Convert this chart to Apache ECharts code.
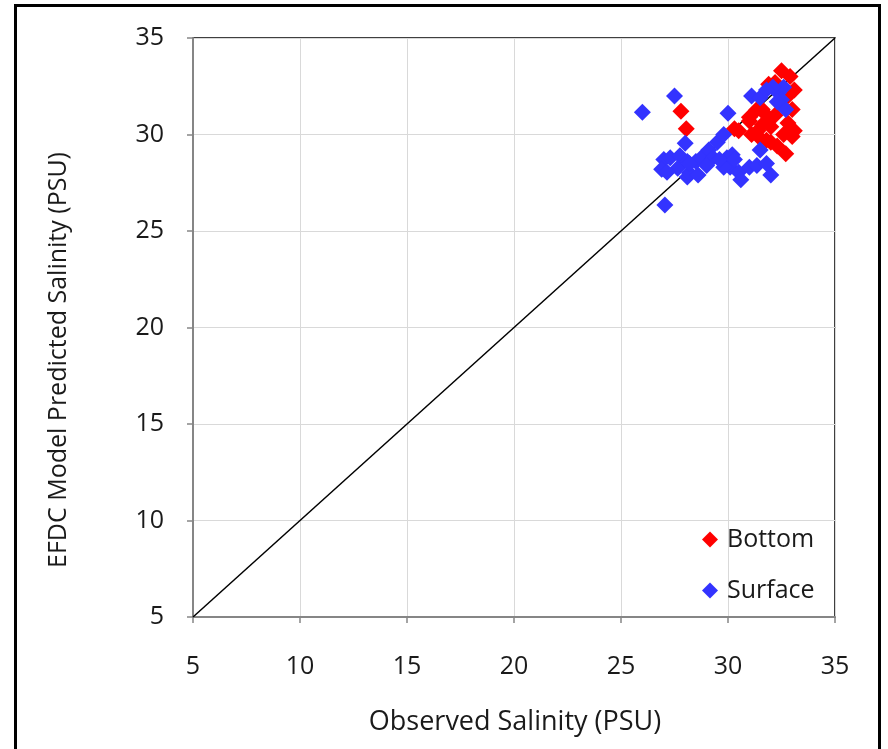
<!DOCTYPE html>
<html>
<head>
<meta charset="utf-8">
<script src="https://cdn.jsdelivr.net/npm/echarts@6/dist/echarts.min.js"></script>
<style>
  html, body { margin: 0; padding: 0; background: #fff; }
  #container { width: 888px; height: 749px; }
</style>
</head>
<body>
<div id="container"></div>
<script>
// observed vs predicted salinity
var bottomPts = [
    [27.8, 31.2], [28.05, 30.3], [30.3, 30.3], [30.5, 30.2], [31.0, 30.9],
    [31.35, 31.3], [31.1, 30.0], [31.6, 30.5], [31.8, 29.7], [31.0, 30.7],
    [31.4, 30.2], [31.6, 31.3], [32.0, 30.4], [32.8, 30.6], [32.5, 33.3],
    [32.9, 33.0], [32.2, 32.7], [33.1, 32.3], [31.9, 32.6], [33.0, 31.3],
    [33.1, 30.2], [33.0, 29.9], [32.7, 29.0], [32.3, 29.4], [32.0, 29.6],
    [32.6, 30.0], [32.4, 31.6], [31.8, 31.0], [32.8, 32.0], [31.5, 29.8],
    [32.2, 31.0]
];
var surfacePts = [
    [26.0, 31.15], [27.5, 32.0], [27.05, 26.35], [28.0, 29.55], [27.0, 28.7],
    [26.9, 28.2], [27.3, 28.8], [27.75, 28.9], [27.65, 28.25], [28.1, 28.6],
    [28.1, 27.8], [27.15, 28.05], [28.2, 28.0], [28.6, 27.9], [28.5, 28.6],
    [28.8, 28.85], [29.1, 29.2], [29.3, 28.8], [29.5, 29.6], [29.8, 30.0],
    [30.0, 31.1], [29.95, 28.8], [30.2, 28.95], [30.1, 28.3], [30.5, 28.05],
    [30.6, 27.65], [31.0, 28.3], [31.35, 28.4], [29.8, 28.3], [31.5, 29.2],
    [29.6, 28.7], [30.3, 28.7], [28.2, 28.5], [29.0, 28.4], [31.1, 32.0],
    [31.5, 31.9], [32.0, 27.9], [31.8, 28.5], [32.35, 32.15], [32.6, 32.45],
    [32.5, 31.8], [32.7, 31.3], [32.1, 32.45], [31.8, 32.3], [32.3, 31.7]
];
var oneToOne = [[5, 5], [35, 35]];
var axisMin = 5, axisMax = 35, axisStep = 5;

var font = 'Open Sans';

function makeAxis() {
    return {
        type: 'value',
        min: axisMin,
        max: axisMax,
        interval: axisStep,
        axisLine: { show: true, lineStyle: { color: '#868686', width: 2 } },
        axisTick: { show: true, inside: false, length: 6, lineStyle: { color: '#868686', width: 1.5 } },
        splitLine: { show: true, lineStyle: { color: '#d9d9d9', width: 1 } },
        axisLabel: { color: '#1a1a1a', fontSize: 25, fontFamily: font }
    };
}

var chart = echarts.init(document.getElementById('container'));

var xAxis = makeAxis();
xAxis.axisLabel.margin = 37;
var yAxis = makeAxis();
yAxis.axisLabel.margin = 29;

var option = {
    animation: false,
    backgroundColor: '#fff',
    grid: {
        left: 193, top: 38, right: 53, bottom: 132,
        show: true, borderColor: '#000', borderWidth: 1.5
    },
    xAxis: xAxis,
    yAxis: yAxis,
    legend: {
        orient: 'vertical',
        left: 697,
        top: 522,
        itemGap: 26,
        itemWidth: 16,
        itemHeight: 16,
        icon: 'diamond',
        textStyle: { fontSize: 25, fontFamily: font, color: '#1a1a1a', padding: [0, 0, 0, 4] },
        data: ['Bottom', 'Surface']
    },
    graphic: [
        {
            type: 'rect',
            shape: { x: 15.5, y: 5.5, width: 864, height: 760 },
            style: { fill: 'none', stroke: '#000', lineWidth: 3 },
            silent: true
        },
        {
            type: 'text',
            x: 515, y: 722,
            style: {
                text: 'Observed Salinity (PSU)', fill: '#1a1a1a', fontSize: 27,
                fontFamily: font, align: 'center', verticalAlign: 'middle'
            }
        },
        {
            type: 'text',
            x: 59, y: 360,
            rotation: Math.PI / 2,
            style: {
                text: 'EFDC Model Predicted Salinity (PSU)', fill: '#1a1a1a', fontSize: 25,
                fontFamily: font, align: 'center', verticalAlign: 'middle'
            }
        }
    ],
    series: [
        {
            name: 'line',
            type: 'line',
            data: oneToOne,
            symbol: 'none',
            silent: true,
            lineStyle: { color: '#000', width: 1.5 },
            z: 1
        },
        {
            name: 'Bottom',
            type: 'scatter',
            data: bottomPts,
            symbol: 'diamond',
            symbolSize: 17,
            itemStyle: { color: '#ff0000', opacity: 1 }
        },
        {
            name: 'Surface',
            type: 'scatter',
            data: surfacePts,
            symbol: 'diamond',
            symbolSize: 17,
            itemStyle: { color: '#3333ff', opacity: 1 }
        }
    ]
};

chart.setOption(option, true);
</script>
</body>
</html>
